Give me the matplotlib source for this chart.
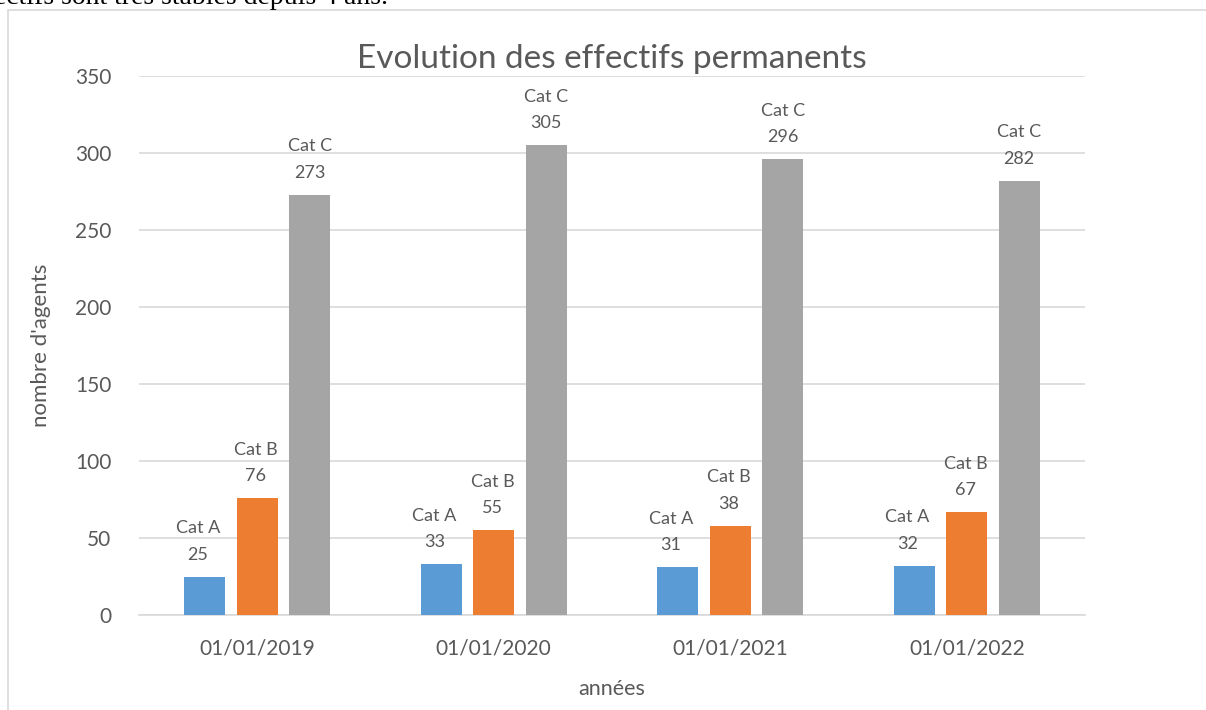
import matplotlib
matplotlib.use("Agg")
import matplotlib.pyplot as plt
import numpy as np
from matplotlib.patches import Rectangle

dates = ["01/01/2019", "01/01/2020", "01/01/2021", "01/01/2022"]
series_names = ["Cat A", "Cat B", "Cat C"]
cat_a = [25, 33, 31, 32]
cat_b = [76, 55, 58, 67]
cat_c = [273, 305, 296, 282]
label_a = ["25", "33", "31", "32"]
label_b = ["76", "55", "38", "67"]
label_c = ["273", "305", "296", "282"]
yticks = [0, 50, 100, 150, 200, 250, 300, 350]

colors = ["#5B9BD5", "#ED7D31", "#A5A5A5"]
txt = "#595959"
plt.rcParams['font.family'] = ['Lato', 'DejaVu Sans']

W, H = 1206, 710
fig = plt.figure(figsize=(W / 100, H / 100), dpi=100)
ax = fig.add_axes([139 / W, 1 - 615 / H, (1085 - 139) / W, (615 - 76) / H])

x = np.arange(len(dates))
bw = 0.172
step = 0.222
series = [cat_a, cat_b, cat_c]
labels = [label_a, label_b, label_c]
xoff = [-5, -1, 0]
for i, (vals, labs) in enumerate(zip(series, labels)):
    pos = x + (i - 1) * step
    ax.bar(pos, vals, width=bw, color=colors[i], zorder=3)
    for p, v, lab in zip(pos, vals, labs):
        ax.annotate(series_names[i] + "\n" + lab, (p, v), xytext=(xoff[i], 10),
                    textcoords="offset points", ha="center", va="bottom",
                    fontsize=13, color=txt, linespacing=1.8)

ax.set_xlim(-0.5, len(dates) - 0.5)
ax.set_ylim(0, 350)
ax.set_yticks(yticks)
ax.set_xticks(x)
ax.set_xticklabels(dates)
ax.yaxis.grid(True, color="#D9D9D9", linewidth=1.2, zorder=0)
for s in ["top", "right", "left"]:
    ax.spines[s].set_visible(False)
ax.spines["bottom"].set_color("#D9D9D9")
ax.spines["bottom"].set_linewidth(1.2)
ax.tick_params(axis="both", length=0, colors=txt, labelsize=15)
ax.tick_params(axis="y", pad=20)
ax.tick_params(axis="x", pad=17)
ax.set_xlabel("années", fontsize=15.5, color=txt, labelpad=15)
ax.set_ylabel("nombre d'agents", fontsize=16, color=txt, labelpad=17)
ax.set_title("Evolution des effectifs permanents", fontsize=24, color=txt, pad=6)

fig.patches.append(Rectangle((8 / W, -0.05), 1.2, 1 - 10 / H + 0.05,
                             transform=fig.transFigure, fill=False,
                             edgecolor="#D9D9D9", linewidth=1.2))
fig.text(-6 / W, 1 - 4 / H, "ectifs sont très stables depuis 4 ans.",
         family="Liberation Serif", fontsize=20, color="black",
         ha="left", va="baseline")

fig.savefig("out.png", dpi=100)
